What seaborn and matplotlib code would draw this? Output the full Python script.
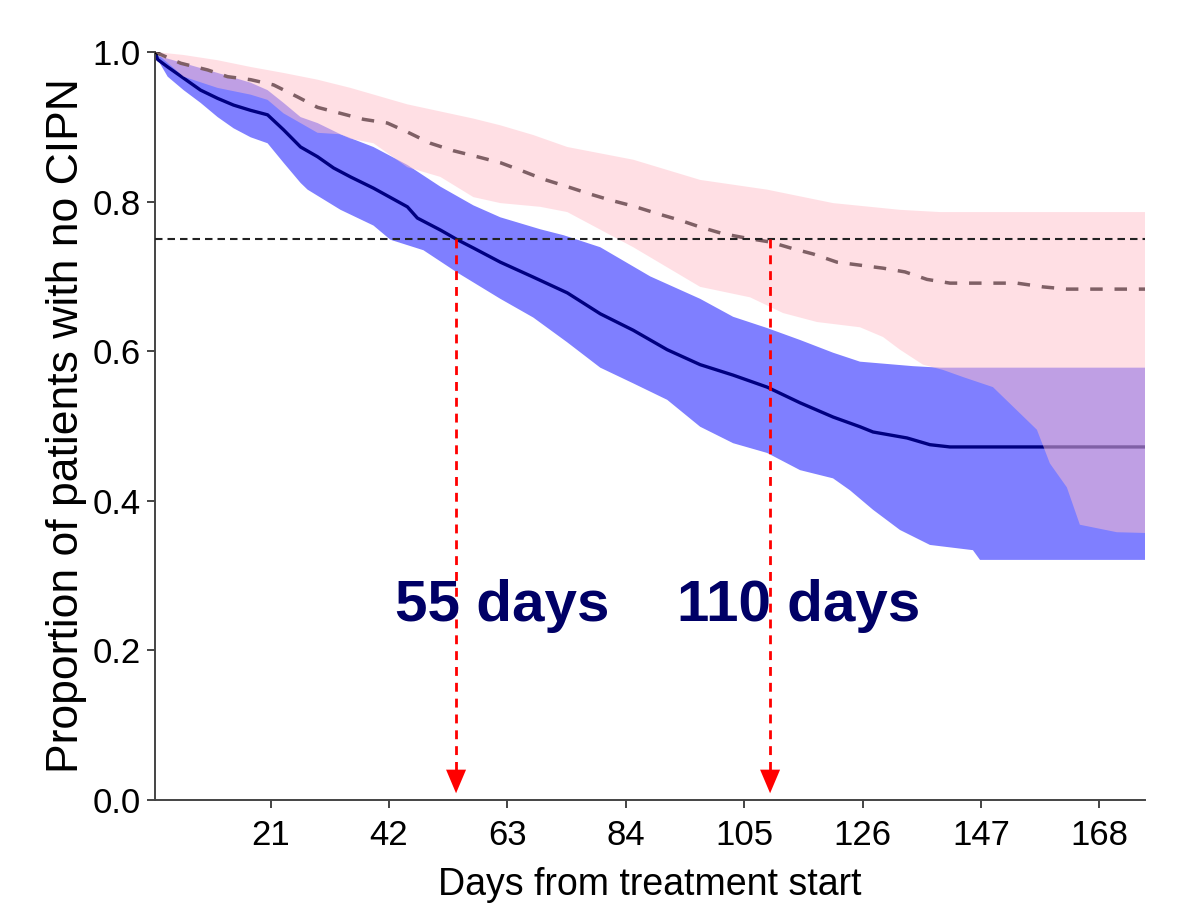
import numpy as np
import matplotlib
matplotlib.use("Agg")
import matplotlib.pyplot as plt
import seaborn as sns

# ---------------- data ----------------
# Group 1 (blue, solid navy line) Kaplan-Meier estimate and CI
blue_x = [0.5, 0.97, 2.75, 5.58, 8.59, 11.61, 14.44, 17.46, 20.47, 23.30, 26.32, 29.33,
          32.17, 35.18, 39.25, 45.27, 47.04, 51.12, 54.14, 56.97, 61.76, 67.61, 73.63,
          79.48, 85.33, 91.35, 97.20, 103.05, 109.07, 114.92, 120.77, 125.55, 127.86,
          133.89, 137.96, 141.51, 176.1]
blue_y = [1.0, 0.99, 0.98, 0.965, 0.949, 0.938, 0.929, 0.922, 0.916, 0.896, 0.873, 0.86,
          0.845, 0.833, 0.818, 0.793, 0.778, 0.762, 0.749, 0.738, 0.719, 0.699, 0.678,
          0.65, 0.628, 0.602, 0.582, 0.568, 0.552, 0.531, 0.512, 0.499, 0.492,
          0.484, 0.475, 0.472, 0.472]

blue_up_x = [0.5, 0.97, 5.58, 11.61, 17.46, 20.47, 23.30, 26.32, 29.33, 33.41, 39.25, 45.27,
             51.12, 56.97, 61.76, 68.85, 73.0, 79.48, 88.34, 97.20, 103.05, 109.07, 114.92,
             120.77, 125.55, 134.95, 139.74, 176.1]
blue_up_y = [1.0, 0.995, 0.985, 0.972, 0.959, 0.949, 0.932, 0.913, 0.905, 0.89, 0.873, 0.849,
             0.82, 0.795, 0.779, 0.763, 0.755, 0.739, 0.70, 0.67, 0.646, 0.631, 0.615,
             0.598, 0.586, 0.58, 0.578, 0.578]

blue_lo_x = [0.5, 0.97, 2.75, 5.58, 8.59, 11.61, 14.44, 17.46, 20.47, 23.30, 26.32, 27.56,
             33.41, 39.25, 42.26, 48.11, 54.14, 61.76, 67.6, 73.6, 79.48, 85.33, 91.35,
             97.20, 103.05, 109.07, 114.92, 120.77, 123.78, 127.86, 132.64, 137.96,
             145.58, 146.83, 176.1]
blue_lo_y = [1.0, 0.99, 0.967, 0.949, 0.932, 0.913, 0.898, 0.886, 0.878, 0.852, 0.825, 0.816,
             0.789, 0.768, 0.749, 0.735, 0.705, 0.67, 0.645, 0.612, 0.578, 0.557, 0.535,
             0.499, 0.477, 0.464, 0.441, 0.43, 0.414, 0.388, 0.361, 0.341,
             0.334, 0.321, 0.321]

# Group 2 (pink band, dashed line)
pink_x = [0.5, 5.05, 9.84, 13.38, 17.46, 21.53, 25.78, 29.33, 33.41, 37.48, 41.73, 45.27,
          49.35, 53.43, 57.68, 61.76, 65.30, 69.38, 73.63, 77.71, 81.25, 85.33, 89.58,
          93.66, 97.20, 101.28, 105.53, 109.60, 113.68, 117.22, 121.48, 125.55, 129.63,
          133.53, 137.43, 141.51, 153.38, 157.99, 162.24, 176.1]
pink_y = [1.0, 0.985, 0.976, 0.967, 0.963, 0.956, 0.94, 0.926, 0.918, 0.91, 0.905, 0.893,
          0.878, 0.868, 0.86, 0.852, 0.842, 0.83, 0.82, 0.81, 0.802, 0.794, 0.784,
          0.775, 0.766, 0.757, 0.751, 0.746, 0.737, 0.73, 0.719, 0.715, 0.711,
          0.706, 0.696, 0.691, 0.691, 0.686, 0.683, 0.683]

pink_up_x = [0.5, 5.58, 11.61, 17.46, 23.30, 29.33, 35.18, 45.27, 56.97, 61.76, 67.6, 73.63,
             85.33, 97.20, 109.07, 120.77, 132.64, 139.74, 176.1]
pink_up_y = [1.0, 0.996, 0.989, 0.98, 0.972, 0.963, 0.952, 0.93, 0.911, 0.902, 0.889, 0.873,
             0.856, 0.829, 0.816, 0.798, 0.789, 0.786, 0.786]

pink_lo_x = [0.5, 5.58, 11.61, 17.46, 20.47, 23.30, 29.33, 33.41, 35.18, 39.25, 45.27, 51.12,
             56.97, 61.76, 68.85, 73.63, 85.33, 97.20, 106.06, 111.90, 117.93, 125.55,
             129.63, 132.64, 136.72, 140.27, 144.0, 149.13, 156.93, 159.23, 162.24, 164.55,
             171.11, 176.1]
pink_lo_y = [1.0, 0.967, 0.952, 0.943, 0.936, 0.918, 0.892, 0.89, 0.884, 0.878, 0.846, 0.833,
             0.806, 0.798, 0.793, 0.786, 0.739, 0.686, 0.672, 0.651, 0.639, 0.632,
             0.619, 0.602, 0.582, 0.575, 0.565, 0.552, 0.495, 0.45, 0.418, 0.368,
             0.358, 0.357]

reference_level = 0.75
median_days = [53.9, 109.6]
median_labels = ["55 days", "110 days"]
label_x = [62.1, 114.6]
label_y = 0.239

x_ticks = [21, 42, 63, 84, 105, 126, 147, 168]
y_ticks = [0.0, 0.2, 0.4, 0.6, 0.8, 1.0]
x_title = "Days from treatment start"
y_title = "Proportion of patients with no CIPN"

# ---------------- drawing ----------------
sns.set_theme(style="ticks")
plt.rcParams['font.family'] = ['Liberation Sans Narrow', 'Liberation Sans', 'DejaVu Sans']

fig = plt.figure(figsize=(11.91, 9.09), dpi=100)
ax = fig.add_axes([155 / 1191, (909 - 800) / 909, 990 / 1191, 748 / 909])

# blue confidence band
ax.fill(np.r_[blue_up_x, blue_lo_x[::-1]], np.r_[blue_up_y, blue_lo_y[::-1]],
        color="#0000ff", alpha=0.5, lw=0, zorder=1)
# blue KM line
sns.lineplot(x=blue_x, y=blue_y, ax=ax, color="#000080", lw=2.4, sort=False,
             estimator=None, zorder=2)
# dashed line for group 2
sns.lineplot(x=pink_x, y=pink_y, ax=ax, color="black", lw=2.5, sort=False,
             estimator=None, zorder=3)
ax.lines[-1].set_dashes([3.6, 3.4])
# pink band on top
ax.fill(np.r_[pink_up_x, pink_lo_x[::-1]], np.r_[pink_up_y, pink_lo_y[::-1]],
        color="#ffc0cb", alpha=0.5, lw=0, zorder=4)

# reference line at 0.75
ax.axhline(reference_level, color="#222222", lw=1.5, dashes=(3.6, 2.4), zorder=5)

# red dashed arrows
for d in median_days:
    ax.plot([d, d], [reference_level, 0.03], color="red", lw=2.0, dashes=(3.2, 2.5),
            zorder=6, solid_capstyle="butt")
    ax.annotate("", xy=(d, 0.009), xytext=(d, 0.034),
                arrowprops=dict(arrowstyle="-|>,head_length=0.85,head_width=0.36",
                                color="red", lw=0, mutation_scale=20,
                                shrinkA=0, shrinkB=0), zorder=6)

for lx, txt in zip(label_x, median_labels):
    ax.text(lx, label_y, txt, ha="center", va="baseline", fontsize=42,
            fontweight="bold", color="#000066",
            family=['Liberation Sans', 'DejaVu Sans'], zorder=7)

ax.set_xlim(0.5, 176.1)
ax.set_ylim(0, 1.0)
ax.set_xticks(x_ticks)
ax.set_yticks(y_ticks)
ax.set_yticklabels([f"{v:.1f}" for v in y_ticks])
ax.tick_params(axis="both", direction="out", length=5.5, width=1.4, color="#444444",
               labelsize=25, labelcolor="black")
ax.tick_params(axis="x", pad=8)
ax.tick_params(axis="y", pad=5)
for s in ["top", "right"]:
    ax.spines[s].set_visible(False)
for s in ["left", "bottom"]:
    ax.spines[s].set_color("#444444")
    ax.spines[s].set_linewidth(1.4)

ax.set_xlabel(x_title, fontsize=27, color="black", labelpad=11)
ax.set_ylabel(y_title, fontsize=32, color="black", labelpad=4,
              family=['Liberation Sans', 'DejaVu Sans'])

fig.savefig("out.png", dpi=100)
